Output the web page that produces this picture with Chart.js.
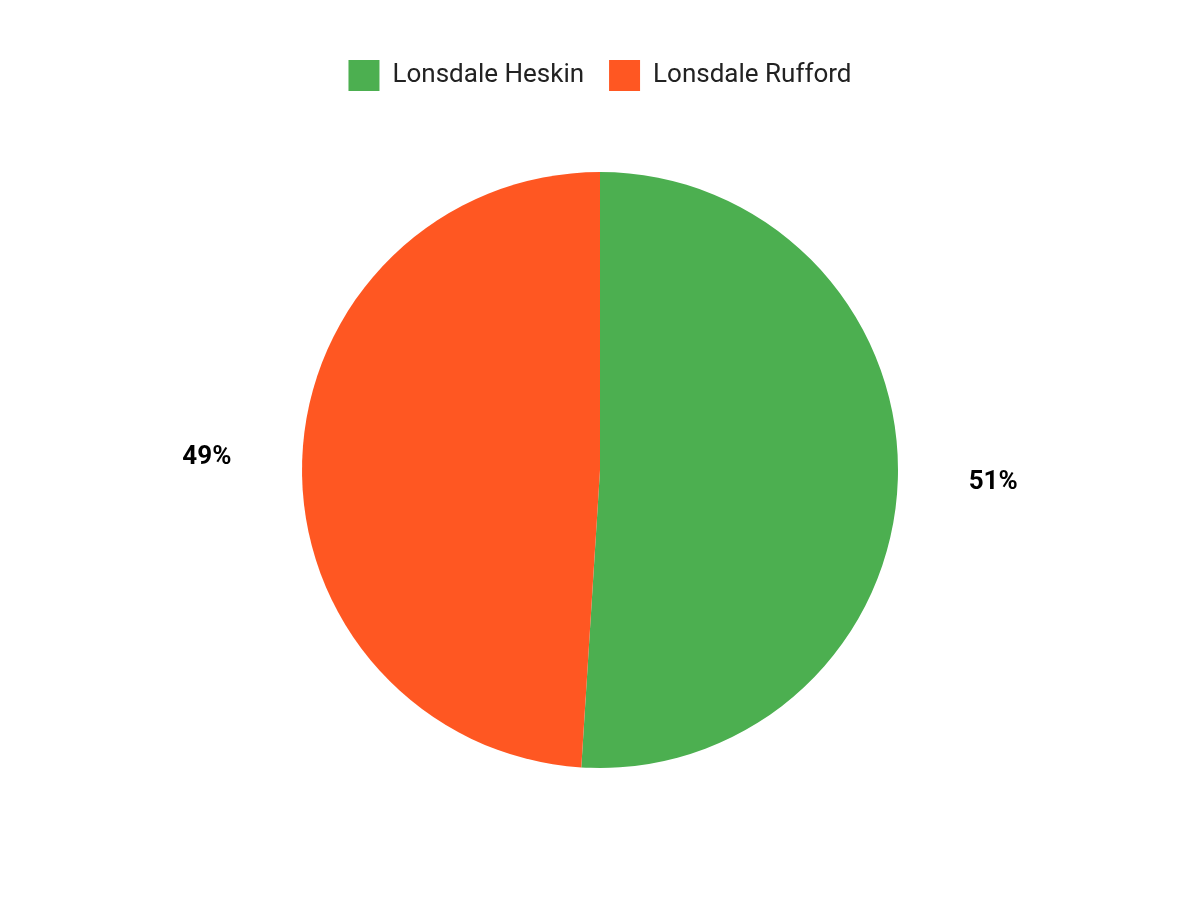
<!DOCTYPE html>
<html><head><meta charset="utf-8">
<script src="https://cdn.jsdelivr.net/npm/chart.js@4"></script>
<style>html,body{margin:0;background:#fff}#w{width:1200px;height:900px}</style>
</head><body><div id="w"><canvas id="c"></canvas></div>
<script>
const categories = ["Lonsdale Heskin", "Lonsdale Rufford"];
const values = [51, 49];
const colors = ["#4CAF50", "#FF5722"];
const outLabels = {
  id: 'outLabels',
  afterDatasetsDraw(chart) {
    const ctx = chart.ctx;
    const total = values.reduce((a, b) => a + b, 0);
    chart.getDatasetMeta(0).data.forEach((arc, i) => {
      const mid = (arc.startAngle + arc.endAngle) / 2;
      const r = arc.outerRadius * 1.32;
      ctx.save();
      ctx.font = 'bold 26px Roboto';
      ctx.fillStyle = '#000';
      ctx.textAlign = 'center';
      ctx.textBaseline = 'middle';
      ctx.fillText(Math.round(values[i] / total * 100) + '%', arc.x + r * Math.cos(mid), arc.y + r * Math.sin(mid));
      ctx.restore();
    });
  }
};
new Chart(document.getElementById('c'), {
  type: 'pie',
  data: { labels: categories, datasets: [{ data: values, backgroundColor: colors, borderWidth: 0, radius: 298 }] },
  options: {
    responsive: true, maintainAspectRatio: false, animation: false,
    layout: { padding: { top: 35, bottom: 61 } },
    plugins: {
      tooltip: { enabled: false },
      legend: { position: 'top', labels: { font: { family: 'Roboto', size: 26 }, color: '#222', boxWidth: 31, boxHeight: 31, padding: 25 } }
    }
  },
  plugins: [outLabels]
});
</script></body></html>
